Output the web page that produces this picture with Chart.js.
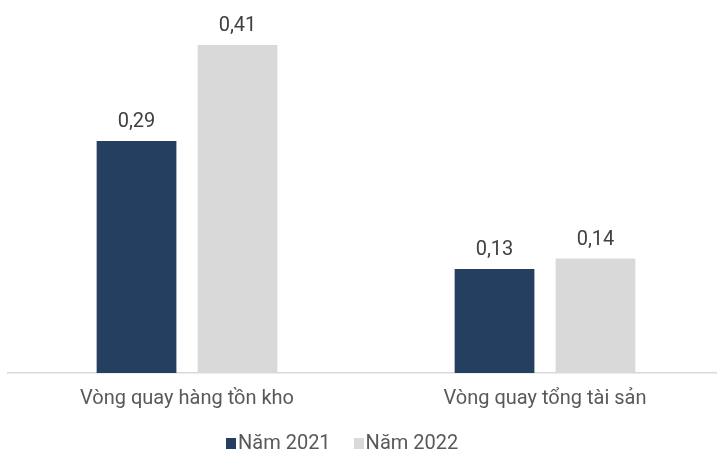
<!DOCTYPE html>
<html>
<head>
<meta charset="utf-8">
<script src="https://cdn.jsdelivr.net/npm/chart.js@4.4.1/dist/chart.umd.min.js"></script>
<style>
  html, body { margin: 0; padding: 0; background: #ffffff; overflow: hidden; }
  #wrap { position: relative; width: 717px; height: 450px; overflow: hidden; }
  #c { position: absolute; left: 0; top: 0; }
  #legend { position: absolute; left: 226px; top: 430px; display: flex; align-items: baseline;
            font-family: Roboto, sans-serif; font-size: 20px; line-height: 24px; color: #595959; }
  .item { display: flex; align-items: baseline; margin-right: 23px; }
  .box { display: inline-block; width: 10px; height: 11px; margin-right: 2px; }
</style>
</head>
<body>
<div id="wrap">
  <canvas id="c" width="726" height="450"></canvas>
  <div id="legend"></div>
</div>
<script>
const categories = ['Vòng quay hàng tồn kho', 'Vòng quay tổng tài sản'];
const seriesNames = ['Năm 2021', 'Năm 2022'];
const values2021 = [0.29, 0.13];
const values2022 = [0.41, 0.143];
const seriesColors = ['#243F60', '#D9D9D9'];

const fmt = v => v.toFixed(2).replace('.', ',');

const valueLabels = {
  id: 'valueLabels',
  afterDatasetsDraw(chart) {
    const ctx = chart.ctx;
    ctx.save();
    ctx.font = '20px Roboto, sans-serif';
    ctx.fillStyle = '#404040';
    ctx.textAlign = 'center';
    ctx.textBaseline = 'alphabetic';
    chart.data.datasets.forEach((ds, i) => {
      chart.getDatasetMeta(i).data.forEach((bar, j) => {
        ctx.fillText(fmt(ds.data[j]), bar.x, bar.y - 14);
      });
    });
    ctx.restore();
  }
};

new Chart(document.getElementById('c'), {
  type: 'bar',
  data: {
    labels: categories,
    datasets: [
      { label: seriesNames[0], data: values2021, backgroundColor: seriesColors[0] },
      { label: seriesNames[1], data: values2022, backgroundColor: seriesColors[1] }
    ]
  },
  options: {
    responsive: false,
    animation: false,
    devicePixelRatio: 1,
    categoryPercentage: 0.564,
    barPercentage: 0.79,
    layout: { padding: { left: 8, right: 2, top: 13, bottom: 25 } },
    plugins: { legend: { display: false }, tooltip: { enabled: false } },
    scales: {
      x: {
        grid: { display: false, drawTicks: false },
        border: { display: true, color: '#D9D9D9', width: 1.5 },
        ticks: { color: '#595959', font: { family: 'Roboto', size: 20 }, padding: 14, maxRotation: 0 }
      },
      y: {
        display: false,
        min: 0,
        max: 0.45
      }
    }
  },
  plugins: [valueLabels]
});

const legend = document.getElementById('legend');
seriesNames.forEach((name, i) => {
  const item = document.createElement('div');
  item.className = 'item';
  const box = document.createElement('span');
  box.className = 'box';
  box.style.background = seriesColors[i];
  const txt = document.createElement('span');
  txt.textContent = name;
  item.appendChild(box);
  item.appendChild(txt);
  legend.appendChild(item);
});
</script>
</body>
</html>
